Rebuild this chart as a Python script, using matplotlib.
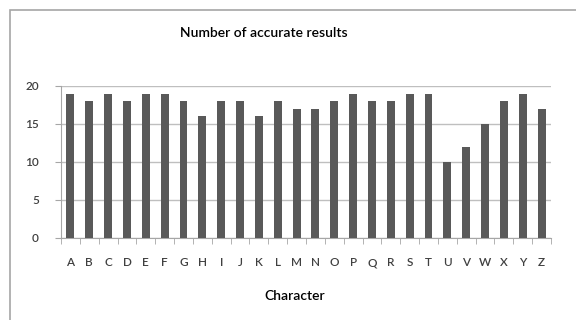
import matplotlib
matplotlib.use("Agg")
import matplotlib.pyplot as plt
from matplotlib.patches import Rectangle
import numpy as np

characters = list("ABCDEFGHIJKLMNOPQRSTUVWXYZ")
accurate = [19, 18, 19, 18, 19, 19, 18, 16, 18, 18, 16, 18, 17, 17, 18, 19, 18, 18, 19, 19, 10, 12, 15, 18, 19, 17]
y_ticks = [0, 5, 10, 15, 20]

plt.rcParams['font.family'] = ['Lato', 'DejaVu Sans']

W, H = 576, 320
fig = plt.figure(figsize=(W / 100, H / 100), dpi=100)
fig.patches.append(Rectangle((10 / W, -0.1), 1.2, 1 - 10 / H + 0.1, transform=fig.transFigure,
                             fill=False, edgecolor='#a6a6a6', linewidth=1.2))

ax = fig.add_axes([61 / W, 1 - 238 / H, (551 - 61) / W, (238 - 86) / H])
x = np.arange(len(characters))
ax.bar(x, accurate, width=0.42, color='#595959', zorder=3)
ax.set_xlim(-0.5, len(characters) - 0.5)
ax.set_ylim(0, 20)
ax.set_yticks(y_ticks)
ax.set_xticks(x)
ax.set_xticklabels(characters, fontsize=8.5, color='#404040', fontweight='semibold')
ax.set_yticklabels([str(v) for v in y_ticks], fontsize=8.5, color='#404040', fontweight='semibold')
ax.set_xticks(np.arange(-0.5, len(characters)), minor=True)
ax.tick_params(axis='x', which='major', length=0, pad=14)
ax.tick_params(axis='x', which='minor', length=4, color='#a6a6a6')
ax.tick_params(axis='y', length=4, color='#a6a6a6', pad=12)
ax.grid(axis='y', color='#bfbfbf', linewidth=1, zorder=0)
for s in ['top', 'right']:
    ax.spines[s].set_visible(False)
for s in ['left', 'bottom']:
    ax.spines[s].set_color('#a6a6a6')

fig.text(264 / W, 1 - 33 / H, 'Number of accurate results', fontsize=10, color='black',
         fontweight='semibold', ha='center', va='center')
fig.text(295 / W, 1 - 296 / H, 'Character', fontsize=10, color='black',
         fontweight='semibold', ha='center', va='center')

fig.savefig('out.png', dpi=100)
